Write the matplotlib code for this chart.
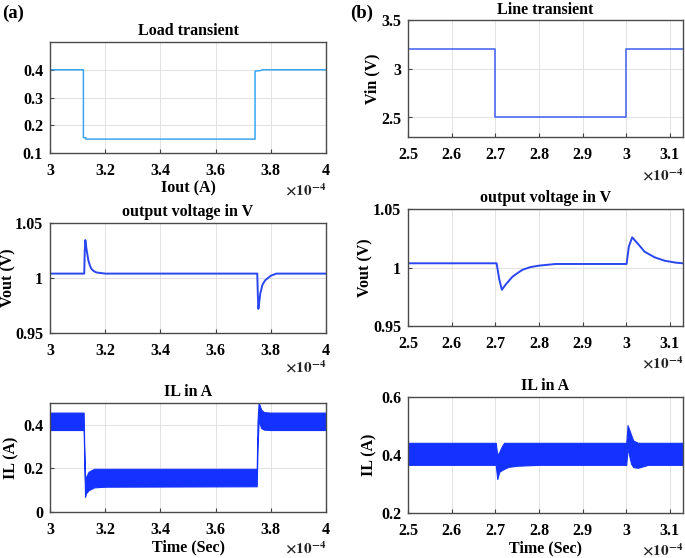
import matplotlib
matplotlib.use("Agg")
import matplotlib.pyplot as plt

plt.rcParams['font.family'] = ['Liberation Serif', 'DejaVu Serif']
plt.rcParams['font.weight'] = 'bold'
plt.rcParams['mathtext.fontset'] = 'stix'

# time axis values are in units of 1e-4 s

# (a) load transient
iout_t = [3.0, 3.121, 3.121, 3.13, 3.13, 3.743, 3.743, 3.762, 3.77, 4.0]
iout_v = [0.4, 0.4, 0.155, 0.155, 0.15, 0.15, 0.395, 0.397, 0.4, 0.4]

vout_a_t = [3.0, 3.124, 3.126, 3.128, 3.133, 3.139, 3.145, 3.151, 3.16, 3.169, 3.2,
            3.751, 3.753, 3.755, 3.758, 3.762, 3.77, 3.78, 3.8, 3.82, 4.0]
vout_a_v = [1.004, 1.004, 1.025, 1.0345, 1.025, 1.016, 1.011, 1.008, 1.006, 1.005, 1.004,
            1.004, 0.985, 0.972, 0.978, 0.986, 0.994, 0.998, 1.002, 1.004, 1.004]

il_a_t = [3.0, 3.122, 3.124, 3.127, 3.13, 3.14, 3.16, 3.2, 3.749, 3.752, 3.756, 3.765, 3.775, 3.8, 4.0]
il_a_hi = [0.456, 0.456, 0.30, 0.14, 0.16, 0.185, 0.198, 0.198, 0.198, 0.42, 0.503, 0.47, 0.458, 0.456, 0.456]
il_a_lo = [0.376, 0.376, 0.25, 0.07, 0.085, 0.10, 0.113, 0.116, 0.118, 0.30, 0.42, 0.385, 0.378, 0.376, 0.376]

# (b) line transient
vin_t = [2.5, 2.7, 2.7, 3.0, 3.0, 3.13]
vin_v = [3.2, 3.2, 2.5, 2.5, 3.2, 3.2]

vout_b_t = [2.5, 2.703, 2.709, 2.715, 2.725, 2.739, 2.75, 2.762, 2.78, 2.80, 2.838,
            3.0007, 3.006, 3.0136, 3.025, 3.042, 3.065, 3.088, 3.114, 3.13]
vout_b_v = [1.0036, 1.0036, 0.99, 0.981, 0.986, 0.992, 0.995, 0.998, 1.0003, 1.0016, 1.003,
            1.003, 1.018, 1.0258, 1.021, 1.0135, 1.0087, 1.0058, 1.0041, 1.0036]

il_b_t = [2.5, 2.701, 2.7045, 2.709, 2.715, 2.72, 2.73, 2.75, 2.8, 3.0, 3.003, 3.011, 3.016, 3.027, 3.05, 3.13]
il_b_hi = [0.442, 0.442, 0.40, 0.41, 0.43, 0.442, 0.442, 0.442, 0.442, 0.442, 0.503, 0.47, 0.45, 0.442, 0.442, 0.442]
il_b_lo = [0.366, 0.366, 0.317, 0.342, 0.348, 0.352, 0.359, 0.363, 0.366, 0.366, 0.424, 0.37, 0.358, 0.356, 0.366, 0.366]

W, H = 685, 558
fig = plt.figure(figsize=(W / 100, H / 100), dpi=100)

FS = 11.5


def box(x0, y0, x1, y1):
    return [x0 / W, 1 - y1 / H, (x1 - x0) / W, (y1 - y0) / H]


def style(ax, xlim, xticks, xlabels, ylim, yticks, ylabels):
    ax.set_xlim(*xlim)
    ax.set_ylim(*ylim)
    ax.set_xticks(xticks)
    ax.set_xticklabels(xlabels)
    ax.set_yticks(yticks)
    ax.set_yticklabels(ylabels)
    ax.grid(True, color='#e2e2e2', lw=0.7)
    ax.set_axisbelow(True)
    ax.tick_params(direction='in', length=3, width=0.8, color='#404040',
                   labelsize=11.5, pad=5)
    ax.tick_params(axis='x', pad=7)
    for s in ax.spines.values():
        s.set_color('#4a4a4a')
        s.set_linewidth(1.0)


def exp_label(ax, dy):
    x1 = ax.get_position().x1
    y0 = ax.get_position().y0
    fig.text(x1, y0 - dy / H, r'$\times10^{-4}$', ha='right', va='center',
             fontsize=11, color='#222222')


lx = ['3', '3.2', '3.4', '3.6', '3.8', '4']
lxv = [3, 3.2, 3.4, 3.6, 3.8, 4]
rx = ['2.5', '2.6', '2.7', '2.8', '2.9', '3', '3.1']
rxv = [2.5, 2.6, 2.7, 2.8, 2.9, 3.0, 3.1]

blue = '#2a46f0'

# left column
ax1 = fig.add_axes(box(50, 42, 326, 153))
ax1.plot(iout_t, iout_v, color='#3aa6ee', lw=1.1)
style(ax1, (3, 4), lxv, lx, (0.1, 0.5), [0.1, 0.2, 0.3, 0.4], ['0.1', '0.2', '0.3', '0.4'])
ax1.set_title('Load transient', fontsize=FS, fontweight='bold', pad=5)
ax1.set_xlabel('Iout (A)', fontsize=FS, fontweight='bold', labelpad=1)
exp_label(ax1, 37)

ax2 = fig.add_axes(box(50, 223, 326, 333))
ax2.plot(vout_a_t, vout_a_v, color=blue, lw=1.4)
style(ax2, (3, 4), lxv, lx, (0.95, 1.05), [0.95, 1.0, 1.05], ['0.95', '1', '1.05'])
ax2.set_title('output voltage in V', fontsize=FS, fontweight='bold', pad=5)
ax2.set_ylabel('Vout (V)', fontsize=FS, fontweight='bold')
ax2.yaxis.set_label_coords(-0.12, 0.5)
exp_label(ax2, 34)

ax3 = fig.add_axes(box(50, 403, 326, 512))
ax3.fill_between(il_a_t, il_a_lo, il_a_hi, color='#1432ff', lw=0.8, edgecolor='#1432ff')
style(ax3, (3, 4), lxv, lx, (0, 0.5), [0, 0.2, 0.4], ['0', '0.2', '0.4'])
ax3.set_title('IL in A', fontsize=FS, fontweight='bold', pad=5)
ax3.set_ylabel('IL (A)', fontsize=FS, fontweight='bold')
ax3.yaxis.set_label_coords(-0.11, 0.5)
ax3.set_xlabel('Time (Sec)', fontsize=FS, fontweight='bold', labelpad=1)
exp_label(ax3, 36)

# right column
ax4 = fig.add_axes(box(408, 20, 683, 137))
ax4.plot(vin_t, vin_v, color='#3f5ff0', lw=1.1)
style(ax4, (2.5, 3.13), rxv, rx, (2.3, 3.5), [2.5, 3.0, 3.5], ['2.5', '3', '3.5'])
ax4.set_title('Line transient', fontsize=FS, fontweight='bold', pad=4)
ax4.set_ylabel('Vin (V)', fontsize=FS, fontweight='bold')
ax4.yaxis.set_label_coords(-0.10, 0.5)
exp_label(ax4, 38)

ax5 = fig.add_axes(box(408, 209, 683, 326))
ax5.plot(vout_b_t, vout_b_v, color=blue, lw=1.4)
style(ax5, (2.5, 3.13), rxv, rx, (0.95, 1.05), [0.95, 1.0, 1.05], ['0.95', '1', '1.05'])
ax5.set_title('output voltage in V', fontsize=FS, fontweight='bold', pad=5)
ax5.set_ylabel('Vout (V)', fontsize=FS, fontweight='bold')
ax5.yaxis.set_label_coords(-0.127, 0.5)
exp_label(ax5, 37)

ax6 = fig.add_axes(box(408, 397, 683, 513))
ax6.fill_between(il_b_t, il_b_lo, il_b_hi, color='#1432ff', lw=0.8, edgecolor='#1432ff')
style(ax6, (2.5, 3.13), rxv, rx, (0.2, 0.6), [0.2, 0.4, 0.6], ['0.2', '0.4', '0.6'])
ax6.set_title('IL in A', fontsize=FS, fontweight='bold', pad=5)
ax6.set_ylabel('IL (A)', fontsize=FS, fontweight='bold')
ax6.yaxis.set_label_coords(-0.11, 0.5)
ax6.set_xlabel('Time (Sec)', fontsize=FS, fontweight='bold', labelpad=1)
exp_label(ax6, 37)

fig.text(2 / W, 1 - 13 / H, '(a)', fontsize=13.5, fontweight='bold', va='center', ha='left')
fig.text(350 / W, 1 - 13 / H, '(b)', fontsize=13.5, fontweight='bold', va='center', ha='left')

fig.savefig('out.png', dpi=100)
